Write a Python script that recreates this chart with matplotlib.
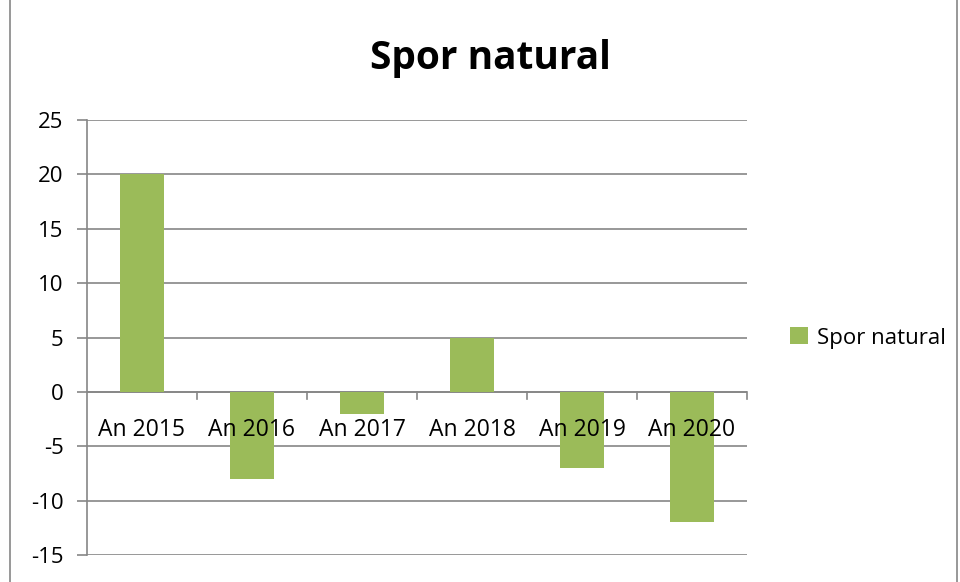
import matplotlib.pyplot as plt
from matplotlib.patches import Rectangle

# Data
categories = ['An 2015', 'An 2016', 'An 2017', 'An 2018', 'An 2019', 'An 2020']
values = [20, -8, -2, 5, -7, -12]
series_name = 'Spor natural'

plt.rcParams['font.family'] = ['Open Sans', 'DejaVu Sans']
plt.rcParams['axes.unicode_minus'] = False

fig = plt.figure(figsize=(9.6, 5.82), dpi=100)
ax = fig.add_axes([87 / 960, 1 - 555 / 582, 660 / 960, 435 / 582])

# outer chart border
fig.patches.append(Rectangle((10 / 960, -0.01), 947 / 960, 1.02, transform=fig.transFigure,
                             fill=False, edgecolor='#868686', linewidth=1.2))

x = list(range(len(categories)))
ax.bar(x, values, width=0.4, color='#9BBB59', label=series_name, zorder=3)

ax.set_xlim(-0.5, len(categories) - 0.5)
ax.set_ylim(-15, 25)
ax.set_yticks(range(-15, 30, 5))
ax.yaxis.grid(True, color='#868686', linewidth=1.2, zorder=0)

for side in ['top', 'right', 'bottom']:
    ax.spines[side].set_visible(False)
ax.spines['left'].set_color('#868686')
ax.spines['left'].set_linewidth(1.2)
ax.tick_params(axis='y', length=7, width=1.2, color='#868686', labelsize=16, pad=10,
               labelcolor='black')

# category axis at zero
ax.axhline(0, color='#868686', linewidth=1.2, zorder=2)
ax.set_xticks([])
for i in range(1, len(categories) + 1):
    ax.plot([i - 0.5, i - 0.5], [0, -0.7], color='#868686', linewidth=1.2, zorder=2, clip_on=False)
for i, c in enumerate(categories):
    ax.text(i, -3.5, c, ha='center', va='center', fontsize=16.5, zorder=4)

fig.text(490 / 960, 1 - 58 / 582, 'Spor natural', ha='center', va='center',
         fontsize=28, fontweight='bold')

ax.legend(loc='center left', bbox_to_anchor=(781 / 660 - 87 / 660, (555 - 338) / 435),
          frameon=False, fontsize=16, handlelength=0.8, handleheight=0.8,
          handletextpad=0.4, borderaxespad=0)

fig.savefig('out.png', dpi=100)
